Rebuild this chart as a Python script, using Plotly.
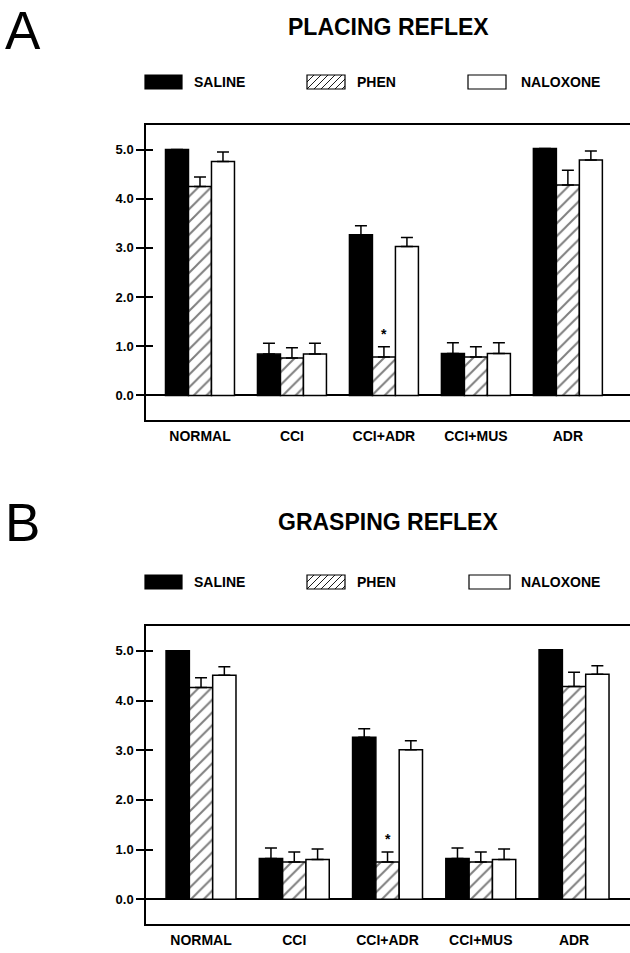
import plotly.graph_objects as go

categories = ["NORMAL", "CCI", "CCI+ADR", "CCI+MUS", "ADR"]
series_names = ["SALINE", "PHEN", "NALOXONE"]

# Panel A: placing reflex
a_saline = [5.0, 0.84, 3.27, 0.85, 5.02]
a_saline_err = [0.0, 0.22, 0.18, 0.22, 0.0]
a_phen = [4.25, 0.76, 0.78, 0.78, 4.28]
a_phen_err = [0.19, 0.21, 0.21, 0.21, 0.30]
a_nalox = [4.76, 0.84, 3.03, 0.85, 4.79]
a_nalox_err = [0.19, 0.22, 0.18, 0.22, 0.18]

# Panel B: grasping reflex
b_saline = [5.0, 0.82, 3.26, 0.82, 5.02]
b_saline_err = [0.0, 0.21, 0.17, 0.21, 0.0]
b_phen = [4.26, 0.75, 0.75, 0.75, 4.28]
b_phen_err = [0.20, 0.20, 0.20, 0.20, 0.29]
b_nalox = [4.51, 0.80, 3.01, 0.80, 4.53]
b_nalox_err = [0.17, 0.21, 0.18, 0.21, 0.17]

y_tickvals = [0, 1, 2, 3, 4, 5]
y_ticktext = ["0.0", "1.0", "2.0", "3.0", "4.0", "5.0"]

FONT = "Liberation Sans"
W, H = 630, 953

fig = go.Figure()
xs = list(range(len(categories)))


def add_panel(xa, ya, sal, sal_e, phe, phe_e, nal, nal_e):
    styles = [
        dict(color="black", line=dict(color="black", width=1.5)),
        dict(color="white", line=dict(color="black", width=1.5),
             pattern=dict(shape="/", fgcolor="black", bgcolor="white", size=9, solidity=0.22)),
        dict(color="white", line=dict(color="black", width=1.5)),
    ]
    for name, vals, errs, st in zip(series_names, [sal, phe, nal], [sal_e, phe_e, nal_e], styles):
        fig.add_trace(go.Bar(
            x=xs, y=vals, name=name, xaxis=xa, yaxis=ya, marker=st, showlegend=False,
            error_y=dict(type="data", array=errs, arrayminus=[0] * len(errs), symmetric=False,
                         color="black", thickness=1.5, width=6),
        ))
    # asterisk above PHEN in CCI+ADR
    fig.add_annotation(x=2, y=phe[2] + phe_e[2], xref=xa, yref=ya, text="<b>*</b>",
                       showarrow=False, yanchor="bottom", yshift=3,
                       font=dict(family=FONT, size=14, color="black"))


add_panel("x", "y", a_saline, a_saline_err, a_phen, a_phen_err, a_nalox, a_nalox_err)
add_panel("x2", "y2", b_saline, b_saline_err, b_phen, b_phen_err, b_nalox, b_nalox_err)


def px_to_y(py):
    return 1 - py / H


def px_to_x(px):
    return px / W


xaxis_common = dict(
    tickmode="array", tickvals=xs, ticktext=categories, ticks="", showline=True,
    linecolor="black", linewidth=1.5, mirror=True, showgrid=False, zeroline=False,
    tickfont=dict(family=FONT, size=14, color="black", weight="bold"), ticklabelstandoff=2,
)
yaxis_common = dict(
    range=[-0.5, 5.5], tickmode="array", tickvals=y_tickvals, ticktext=y_ticktext,
    ticks="outside", ticklen=8, tickwidth=1.5, tickcolor="black", showline=True,
    linecolor="black", linewidth=1.5, showgrid=False, zeroline=True, zerolinecolor="black",
    zerolinewidth=1.5, tickfont=dict(family=FONT, size=13, color="black", weight="bold"),
)

dom_x_a = [px_to_x(146), px_to_x(629.5)]
dom_x_b = [px_to_x(146), 1.0]
dom_y_a = [px_to_y(420), px_to_y(125)]
dom_y_b = [px_to_y(924), px_to_y(626)]

fig.update_layout(
    width=W, height=H, margin=dict(l=0, r=0, t=0, b=0),
    paper_bgcolor="white", plot_bgcolor="white",
    barmode="group", bargap=0.25, bargroupgap=0,
    xaxis=dict(xaxis_common, domain=dom_x_a, range=[-0.587, 4.67], anchor="y"),
    yaxis=dict(yaxis_common, domain=dom_y_a, anchor="x", mirror=True),
    xaxis2=dict(xaxis_common, domain=dom_x_b, range=[-0.59, 4.6], anchor="y2"),
    yaxis2=dict(yaxis_common, domain=dom_y_b, anchor="x2", mirror=False),
    # inner halves of the crossing ticks
    yaxis3=dict(range=[-0.5, 5.5], tickvals=y_tickvals, ticks="inside", ticklen=7, tickwidth=1.5,
                tickcolor="black", showticklabels=False, showgrid=False, zeroline=False,
                overlaying="y", anchor="x", domain=dom_y_a, showline=False),
    yaxis4=dict(range=[-0.5, 5.5], tickvals=y_tickvals, ticks="inside", ticklen=7, tickwidth=1.5,
                tickcolor="black", showticklabels=False, showgrid=False, zeroline=False,
                overlaying="y2", anchor="x2", domain=dom_y_b, showline=False),
    showlegend=False,
)

# dummy traces so the overlay axes render
fig.add_trace(go.Scatter(x=[None], y=[None], xaxis="x", yaxis="y3", showlegend=False, hoverinfo="skip"))
fig.add_trace(go.Scatter(x=[None], y=[None], xaxis="x2", yaxis="y4", showlegend=False, hoverinfo="skip"))

# Panel letters and titles
for letter, ly in [("A", 0), ("B", 492)]:
    fig.add_annotation(x=px_to_x(4), y=px_to_y(ly), xref="paper", yref="paper", text=letter,
                       showarrow=False, xanchor="left", yanchor="top", borderpad=0,
                       font=dict(family=FONT, size=53, color="black"))
for title, ty in [("PLACING REFLEX", 27), ("GRASPING REFLEX", 522)]:
    fig.add_annotation(x=px_to_x(388), y=px_to_y(ty), xref="paper", yref="paper",
                       text="<b>" + title + "</b>", showarrow=False, xanchor="center",
                       yanchor="middle", font=dict(family=FONT, size=23, color="black"))


# Custom legends
def add_legend(cy, x_positions):
    for i, (name, (x0, x1, tx)) in enumerate(zip(series_names, x_positions)):
        y0, y1 = cy - 7, cy + 7
        fill = "black" if i == 0 else "white"
        fig.add_shape(type="rect", xref="paper", yref="paper",
                      x0=px_to_x(x0), x1=px_to_x(x1), y0=px_to_y(y1), y1=px_to_y(y0),
                      fillcolor=fill, line=dict(color="black", width=1.2))
        if i == 1:
            step = 7
            path = ""
            k = x0 - (y1 - y0)
            while k < x1:
                sx, sy = k, y1
                ex, ey = k + (y1 - y0), y0
                if sx < x0:
                    sy = y1 - (x0 - sx)
                    sx = x0
                if ex > x1:
                    ey = y0 + (ex - x1)
                    ex = x1
                if sx < ex:
                    path += f"M{px_to_x(sx)},{px_to_y(sy)} L{px_to_x(ex)},{px_to_y(ey)} "
                k += step
            fig.add_shape(type="path", xref="paper", yref="paper", path=path,
                          line=dict(color="black", width=0.9))
        fig.add_annotation(x=px_to_x(tx), y=px_to_y(cy), xref="paper", yref="paper",
                           text="<b>" + name + "</b>", showarrow=False, xanchor="left",
                           yanchor="middle", font=dict(family=FONT, size=14, color="black"))


add_legend(82, [(145, 182, 192), (307, 345, 355), (468, 506, 519)])
add_legend(582, [(145, 182, 192), (307, 345, 355), (469, 510, 519)])

fig.write_html("out.html", config={"displayModeBar": False},
               post_script="document.body.style.margin='0';")
